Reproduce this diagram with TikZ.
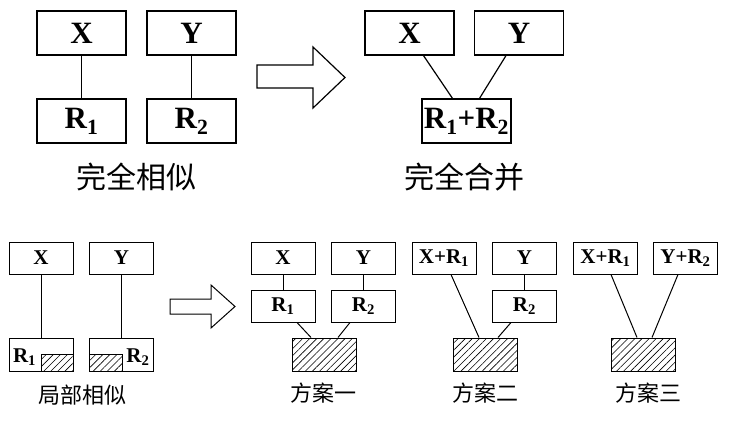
\documentclass[tikz,border=0pt]{standalone}
\usepackage{fontspec}
\setmainfont{Liberation Serif}
\newfontfamily\cjk{Noto Sans CJK SC}
\usetikzlibrary{patterns.meta}

\begin{document}
\begin{tikzpicture}[x=1pt, y=-1pt,
  bigbox/.style={draw, line width=1.2pt, minimum width=89pt, minimum height=44pt, inner sep=0pt, font=\fontsize{31}{31}\selectfont\bfseries},
  smallbox/.style={draw, line width=1pt, minimum width=64pt, minimum height=32pt, inner sep=0pt, font=\fontsize{21}{21}\selectfont\bfseries},
  hatchbox/.style={smallbox, minimum height=33pt, pattern={Lines[angle=45,distance=5pt,line width=0.6pt]}},
  hatch/.style={draw, line width=0.8pt, pattern={Lines[angle=45,distance=5pt,line width=0.6pt]}},
  link/.style={line width=1.2pt},
  bigcap/.style={font=\cjk\fontsize{30}{30}\selectfont},
  smallcap/.style={font=\cjk\fontsize{22}{22}\selectfont},
  bigarrow/.style={draw, line width=1.2pt, fill=white}]
  \useasboundingbox (0,0) rectangle (741,422);
  % full similarity
  \node[bigbox] (tx1) at (81.5,33) {X};
  \node[bigbox] (ty1) at (191.5,33) {Y};
  \node[bigbox] (tr1) at (81.5,121) {R\textsubscript{1}};
  \node[bigbox] (tr2) at (191.5,121) {R\textsubscript{2}};
  \draw[link] (tx1) -- (tr1);
  \draw[link] (ty1) -- (tr2);
  \node[bigcap] (cap1) at (136,177) {完全相似};
  \draw[bigarrow] (257,65) -- (313,65) -- (313,47) -- (345,77.5) -- (313,108) -- (313,88) -- (257,88) -- cycle;
  % full merge
  \node[bigbox] (tx2) at (409.5,33) {X};
  \node[bigbox] (ty2) at (519,33) {Y};
  \node[bigbox] (tr12) at (466.5,121) {R\textsubscript{1}+R\textsubscript{2}};
  \draw[link] ([xshift=14pt]tx2.south) -- ([xshift=-14pt]tr12.north);
  \draw[link] ([xshift=-13pt]ty2.south) -- ([xshift=13pt]tr12.north);
  \node[bigcap] (cap2) at (464,177) {完全合并};
  % partial similarity
  \node[smallbox] (px) at (41,258) {X};
  \node[smallbox] (py) at (121.5,258) {Y};
  \node[smallbox, minimum height=33pt] (pr1) at (41,354.5) {};
  \node[smallbox, minimum height=33pt] (pr2) at (121.5,354.5) {};
  \draw[hatch] (pr1.south east) rectangle ([xshift=-32pt,yshift=17pt]pr1.south east);
  \draw[hatch] (pr2.south west) rectangle ([xshift=33pt,yshift=17pt]pr2.south west);
  \node[smallbox, draw=none, minimum width=0pt, anchor=west] (pr1t) at ([xshift=4pt,yshift=-3pt]pr1.west) {R\textsubscript{1}};
  \node[smallbox, draw=none, minimum width=0pt, anchor=east] (pr2t) at ([xshift=-4pt,yshift=-3pt]pr2.east) {R\textsubscript{2}};
  \draw[link, line width=1pt] (px) -- (pr1);
  \draw[link, line width=1pt] (py) -- (pr2);
  \node[smallcap] (cap3) at (82,395) {局部相似};
  \draw[bigarrow, line width=1pt] (170,299) -- (211,299) -- (211,285) -- (235,306.5) -- (211,328) -- (211,314) -- (170,314) -- cycle;
  % plan one
  \node[smallbox] (ax) at (283,258) {X};
  \node[smallbox] (ay) at (363.5,258) {Y};
  \node[smallbox] (ar1) at (283,306) {R\textsubscript{1}};
  \node[smallbox] (ar2) at (363.5,306) {R\textsubscript{2}};
  \node[hatchbox] (ah) at (324.5,354.5) {};
  \draw[link, line width=1pt] (ax) -- (ar1);
  \draw[link, line width=1pt] (ay) -- (ar2);
  \draw[link, line width=1pt] ([xshift=14pt]ar1.south) -- ([xshift=-13.5pt]ah.north);
  \draw[link, line width=1pt] ([xshift=-13.5pt]ar2.south) -- ([xshift=13.5pt]ah.north);
  \node[smallcap] (cap4) at (323,393) {方案一};
  % plan two
  \node[smallbox] (bxr) at (444,258) {X+R\textsubscript{1}};
  \node[smallbox] (by) at (524.5,258) {Y};
  \node[smallbox] (br2) at (524.5,306) {R\textsubscript{2}};
  \node[hatchbox] (bh) at (485.5,354.5) {};
  \draw[link, line width=1pt] (by) -- (br2);
  \draw[link, line width=1pt] ([xshift=7pt]bxr.south) -- ([xshift=-6.5pt]bh.north);
  \draw[link, line width=1pt] ([xshift=-13.5pt]br2.south) -- ([xshift=12.5pt]bh.north);
  \node[smallcap] (cap5) at (485,393) {方案二};
  % plan three
  \node[smallbox] (cxr) at (605.5,258) {X+R\textsubscript{1}};
  \node[smallbox] (cyr) at (685.5,258) {Y+R\textsubscript{2}};
  \node[hatchbox] (ch) at (643.5,354.5) {};
  \draw[link, line width=1pt] ([xshift=5.5pt]cxr.south) -- ([xshift=-6.5pt]ch.north);
  \draw[link, line width=1pt] ([xshift=-7.5pt]cyr.south) -- ([xshift=8.5pt]ch.north);
  \node[smallcap] (cap6) at (648,393) {方案三};
\end{tikzpicture}
\end{document}
